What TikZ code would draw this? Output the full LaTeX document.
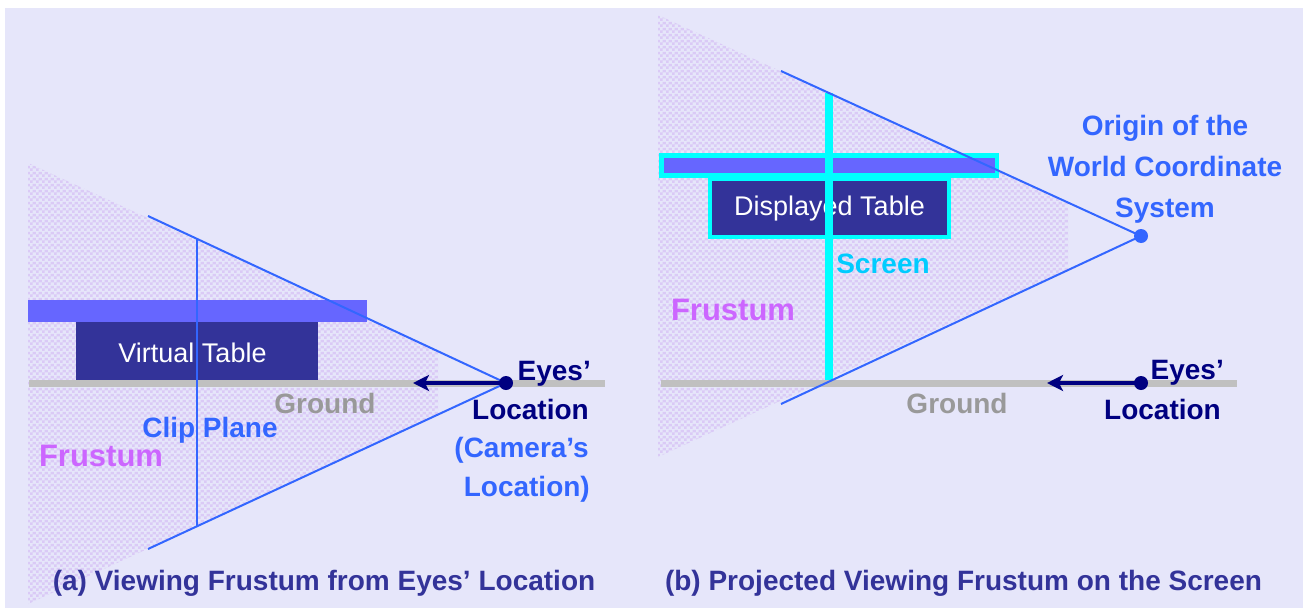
\documentclass[tikz,border=0pt]{standalone}
\usepackage{fontspec}
\setmainfont{Liberation Sans}
\usetikzlibrary{arrows.meta,patterns.meta}

\definecolor{pagebg}{RGB}{230,230,250}
\definecolor{checkpink}{RGB}{218,202,246}
\definecolor{rayblue}{RGB}{51,102,255}
\definecolor{topblue}{RGB}{102,102,255}
\definecolor{bodyblue}{RGB}{51,51,153}
\definecolor{eyenavy}{RGB}{0,0,128}
\definecolor{groundgray}{RGB}{192,192,192}
\definecolor{labelgray}{RGB}{153,153,153}
\definecolor{frustpink}{RGB}{204,102,255}
\definecolor{screencyan}{RGB}{0,255,255}
\definecolor{screenlabel}{RGB}{0,204,255}
\definecolor{captionblue}{RGB}{51,51,153}

% fine checkerboard used for the frustum volume
\pgfdeclarepattern{
  name=frustumcheck,
  type=colored,
  bottom left={\pgfpointorigin},
  top right={\pgfpoint{6pt}{6pt}},
  tile size={\pgfpoint{6pt}{6pt}},
  code={
    \pgfsetfillcolor{checkpink}
    \pgfpathrectangle{\pgfpointorigin}{\pgfpoint{3pt}{3pt}}
    \pgfpathrectangle{\pgfpoint{3pt}{3pt}}{\pgfpoint{3pt}{3pt}}
    \pgfusepath{fill}
  }
}

\tikzset{
  volume/.style={pattern=frustumcheck},
  ray/.style={draw=rayblue, line width=2pt},
  clipline/.style={draw=rayblue, line width=1.6pt},
  screenline/.style={draw=screencyan, line width=8pt},
  groundbar/.style={draw=groundgray, line width=7pt},
  eyearrow/.style={draw=eyenavy, line width=3.2pt,
    -{Stealth[length=16pt,width=16pt,inset=4pt]}},
  eyedot/.style={circle, fill=eyenavy, inner sep=0pt, minimum size=14pt},
  origindot/.style={circle, fill=rayblue, inner sep=0pt, minimum size=14pt},
  lbl/.style={inner sep=0pt, anchor=base, font=\fontsize{28}{34}\selectfont\bfseries},
  lblr/.style={lbl, anchor=base east},
  tabletext/.style={inner sep=0pt, anchor=base, text=white,
    font=\fontsize{27}{32}\selectfont},
  bigword/.style={inner sep=0pt, anchor=base, text=frustpink,
    font=\fontsize{31}{36}\selectfont\bfseries},
}

\begin{document}
\begin{tikzpicture}[x=1pt, y=-1pt]
\useasboundingbox (0,0) rectangle (1303,608);
\fill[white] (0,0) rectangle (1303,608);
\fill[pagebg] (5,8) rectangle (1303,608);

% ---------------- (a) viewing frustum from the eyes ----------------
\fill[volume] (28,163) -- (438,351) -- (438,415) -- (28,604) -- cycle;

% virtual table
\fill[topblue] (28,300) rectangle (367,322);
\fill[bodyblue] (76,322) rectangle (318,380);
\node[tabletext] (vtext) at (192.5,362) {Virtual Table};

% ground
\coordinate (gA1) at (29,383.5);
\coordinate (gA2) at (605,383.5);
\draw[groundbar] (gA1) -- (gA2);

% frustum edges and clip plane
\coordinate (eyeAc) at (506,383);
\coordinate (topA) at (148,216);
\coordinate (botA) at (148,549);
\draw[ray] (topA) -- (eyeAc) -- (botA);
\coordinate (clipTop) at (197,239);
\coordinate (clipBot) at (197,526);
\draw[clipline] (clipTop) -- (clipBot);

% viewing direction
\coordinate (arrA) at (413,383);
\draw[eyearrow] (eyeAc) -- (arrA);
\node[eyedot] (eyeA) at (eyeAc) {};

% labels
\node[lblr, text=eyenavy] (eyesA) at (591,380) {Eyes’};
\node[lblr, text=eyenavy] (locA) at (589,419) {Location};
\node[lblr, text=rayblue] (camA) at (589,457) {(Camera’s};
\node[lblr, text=rayblue] (camlocA) at (590,496) {Location)};
\node[lbl, text=labelgray] (groundA) at (325,413) {Ground};
\node[lbl, text=rayblue] (clipA) at (210,437) {Clip Plane};
\node[bigword] (frustA) at (101,466) {Frustum};
\node[lbl, text=captionblue] (capA) at (324,590) {(a) Viewing Frustum from Eyes’ Location};

% ---------------- (b) frustum projected on the screen ----------------
\fill[volume] (658,15) -- (1068,203) -- (1068,269) -- (658,457) -- cycle;

% displayed table
\filldraw[fill=topblue, draw=screencyan, line width=4.5pt] (661.5,155.5) rectangle (997,175.5);
\filldraw[fill=bodyblue, draw=screencyan, line width=4.5pt] (710,178.5) rectangle (949,237);
\node[tabletext] (dtext) at (829.5,215) {Displayed Table};

% ground
\coordinate (gB1) at (661,383.5);
\coordinate (gB2) at (1237,383.5);
\draw[groundbar] (gB1) -- (gB2);

% screen
\coordinate (scrTop) at (829,93);
\coordinate (scrBot) at (829,380);
\draw[screenline] (scrTop) -- (scrBot);

% frustum edges from the world origin
\coordinate (origc) at (1141,236);
\coordinate (topB) at (781,71);
\coordinate (botB) at (781,404);
\draw[ray] (topB) -- (origc) -- (botB);
\node[origindot] (orig) at (origc) {};

% viewing direction
\coordinate (eyeBc) at (1141,383);
\coordinate (arrB) at (1047,383);
\draw[eyearrow] (eyeBc) -- (arrB);
\node[eyedot] (eyeB) at (eyeBc) {};

% labels
\node[lbl, text=rayblue] (org1) at (1165,135) {Origin of the};
\node[lbl, text=rayblue] (org2) at (1165,176) {World Coordinate};
\node[lbl, text=rayblue] (org3) at (1165,217) {System};
\node[lbl, text=screenlabel] (scrlbl) at (883,273) {Screen};
\node[bigword] (frustB) at (733,320) {Frustum};
\node[lbl, text=labelgray] (groundB) at (957,413) {Ground};
\node[lblr, text=eyenavy] (eyesB) at (1224,379) {Eyes’};
\node[lblr, text=eyenavy] (locB) at (1221,419) {Location};
\node[lbl, text=captionblue] (capB) at (963.5,590) {(b) Projected Viewing Frustum on the Screen};
\end{tikzpicture}
\end{document}
